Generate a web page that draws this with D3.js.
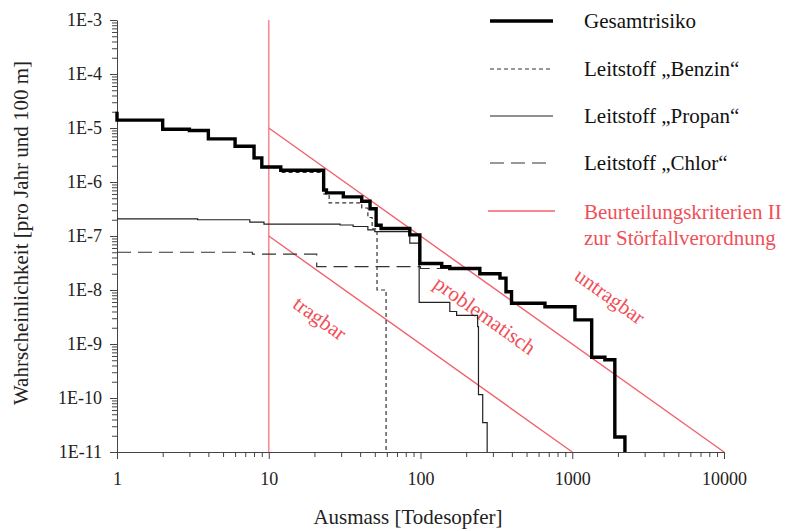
<!DOCTYPE html>
<html>
<head>
<meta charset="utf-8">
<script src="https://cdn.jsdelivr.net/npm/d3@7"></script>
</head>
<body style="margin:0; background:#fff">
<svg width="801" height="531"></svg>
<script>
// step data [Ausmass, Wahrscheinlichkeit] (step-after)
var gesamt = [[1, 2e-5], [1, 1.4e-5], [2, 9.5e-6], [3, 9e-6], [4, 6.3e-6], [6, 4.6e-6], [8, 2.8e-6],
    [9, 1.9e-6], [12, 1.65e-6], [23, 7.1e-7], [24, 6.3e-7], [31, 5.3e-7], [41, 4.4e-7], [46.5, 3.2e-7],
    [51, 1.58e-7], [55, 1.38e-7], [85, 1.05e-7], [99, 3.1e-8], [138, 2.7e-8], [156, 2.5e-8], [246, 2.0e-8],
    [334, 1.66e-8], [366, 9.3e-9], [398, 5.7e-9], [661, 4.9e-9], [1042, 2.8e-9], [1343, 5.7e-10],
    [1641, 5.1e-10], [1908, 1.9e-11], [2224, 1e-11]];
var benzin = [[1, 1.4e-5], [2, 9.4e-6], [3, 8.9e-6], [4, 6.2e-6], [6, 4.5e-6], [8, 2.7e-6], [9, 1.85e-6],
    [12, 1.5e-6], [23, 6e-7], [25, 4.1e-7], [41, 3.3e-7], [45, 2.2e-7], [48, 1.35e-7], [51.7, 1e-8], [59.3, 1e-11]];
var propan = [[1, 2.07e-7], [3.4, 2.0e-7], [7.5, 1.8e-7], [9.3, 1.66e-7], [29.5, 1.6e-7], [36, 1.5e-7],
    [45, 1.3e-7], [50, 1.2e-7], [85, 7.4e-8], [98, 5.9e-9], [156, 4.0e-9], [173, 3.4e-9], [238, 2.1e-9],
    [241, 1.15e-10], [257, 3.5e-11], [275, 1e-11]];
var chlor = [[1, 5e-8], [7.8, 4.6e-8], [20.7, 2.7e-8], [100, 2.5e-8], [156, 2.4e-8], [246, 2.0e-8],
    [334, 1.66e-8], [366, 9.3e-9], [398, 5.7e-9], [661, 4.9e-9], [1042, 2.8e-9], [1343, 5.7e-10],
    [1641, 5.1e-10], [1908, 1.9e-11], [2224, 1e-11]];

// Beurteilungskriterien II
var kriterienOben = [[10, 1e-5], [10000, 1e-11]];
var kriterienUnten = [[10, 1e-7], [1000, 1e-11]];
var kriterienVertikal = [[10, 1e-3], [10, 1e-11]];

var legendNames = ["Gesamtrisiko", "Leitstoff \u201EBenzin\u201C", "Leitstoff \u201EPropan\u201C", "Leitstoff \u201EChlor\u201C"];

var svg = d3.select("svg");
var red = "#ef4f58", redLine = "#f2626a";
var serif = "Liberation Serif";

var x = d3.scaleLog().domain([1, 10000]).range([117, 724]);
var y = d3.scaleLog().domain([1e-11, 1e-3]).range([452, 20]);

function minorTicks(lo, hi) {
    var t = [];
    for (var e = lo; e < hi; e++)
        for (var m = 1; m < 10; m++) t.push(m * Math.pow(10, e));
    t.push(Math.pow(10, hi));
    return t;
}
function isMajor(d) {
    var l = Math.log10(d);
    return Math.abs(l - Math.round(l)) < 1e-9;
}

// x axis
var gx = svg.append("g").attr("transform", "translate(0,452)")
    .call(d3.axisBottom(x).tickValues(minorTicks(0, 4)).tickSizeOuter(0)
        .tickFormat(function(d) { return isMajor(d) ? d3.format("d")(d) : ""; }));
gx.selectAll(".tick line").attr("y2", function(d) { return isMajor(d) ? 7 : 5; });
gx.selectAll(".tick text").attr("y", 20).style("font-family", serif).style("font-size", "18px").attr("fill", "#222");

// y axis
var gy = svg.append("g").attr("transform", "translate(117,0)")
    .call(d3.axisLeft(y).tickValues(minorTicks(-11, -3)).tickSizeOuter(0)
        .tickFormat(function(d) { return isMajor(d) ? "1E" + Math.round(Math.log10(d)) : ""; }));
gy.selectAll(".tick line").attr("x2", function(d) { return isMajor(d) ? -7 : -5; });
gy.selectAll(".tick text").attr("x", -15).style("font-family", serif).style("font-size", "18px").attr("fill", "#222");
svg.selectAll(".domain").attr("stroke", "#444");
svg.selectAll(".tick line").attr("stroke", "#444");

function label(sel) {
    return sel.style("font-family", serif).style("font-size", "21px");
}

// axis titles
label(svg.append("text")).attr("x", 408).attr("y", 524).attr("text-anchor", "middle")
    .attr("fill", "#222").text("Ausmass [Todesopfer]");
label(svg.append("text")).attr("transform", "translate(28,233) rotate(-90)").attr("text-anchor", "middle")
    .attr("fill", "#222").text("Wahrscheinlichkeit [pro Jahr und 100 m]");

var line = d3.line().x(function(d) { return x(d[0]); }).y(function(d) { return y(d[1]); });
var step = d3.line().x(function(d) { return x(d[0]); }).y(function(d) { return y(d[1]); }).curve(d3.curveStepAfter);

// criteria lines
svg.append("path").datum(kriterienVertikal).attr("d", line).attr("stroke", "#f48c92").attr("stroke-width", 1.6).attr("fill", "none");
[kriterienOben, kriterienUnten].forEach(function(k) {
    svg.append("path").datum(k).attr("d", line).attr("stroke", redLine).attr("stroke-width", 1.4).attr("fill", "none");
});

// area labels
var ang = Math.atan2(y(1e-11) - y(1e-9), x(10000) - x(1000)) * 180 / Math.PI;
[["tragbar", 320, 318], ["problematisch", 485, 315], ["untragbar", 610, 296]].forEach(function(l) {
    label(svg.append("text")).attr("transform", "translate(" + l[1] + "," + l[2] + ") rotate(" + ang + ")")
        .attr("text-anchor", "middle").attr("dy", "0.35em").attr("fill", red).text(l[0]);
});

// series
var styles = [
    {data: gesamt, w: 3.4, dash: null, c: "#000"},
    {data: benzin, w: 1.2, dash: "4,3", c: "#333"},
    {data: propan, w: 1.2, dash: null, c: "#222"},
    {data: chlor, w: 1.2, dash: "14,7", c: "#333"}
];
styles.slice().reverse().forEach(function(s) {
    svg.append("path").datum(s.data).attr("d", step).attr("fill", "none")
        .attr("stroke", s.c).attr("stroke-width", s.w).attr("stroke-dasharray", s.dash);
});

// legend
var ly = [21, 69, 116, 163];
styles.forEach(function(s, i) {
    svg.append("line").attr("x1", 490).attr("x2", 553).attr("y1", ly[i]).attr("y2", ly[i])
        .attr("stroke", s.c).attr("stroke-width", s.w).attr("stroke-dasharray", s.dash);
    label(svg.append("text")).attr("x", 584).attr("y", ly[i]).attr("dy", "0.33em")
        .attr("fill", "#111").text(legendNames[i]);
});
svg.append("line").attr("x1", 488).attr("x2", 555).attr("y1", 211).attr("y2", 211)
    .attr("stroke", redLine).attr("stroke-width", 1.4);
label(svg.append("text")).attr("x", 584).attr("y", 212).attr("dy", "0.33em").attr("fill", red)
    .text("Beurteilungskriterien II");
label(svg.append("text")).attr("x", 584).attr("y", 238).attr("dy", "0.33em").attr("fill", red)
    .text("zur St\u00F6rfallverordnung");
</script>
</body>
</html>
